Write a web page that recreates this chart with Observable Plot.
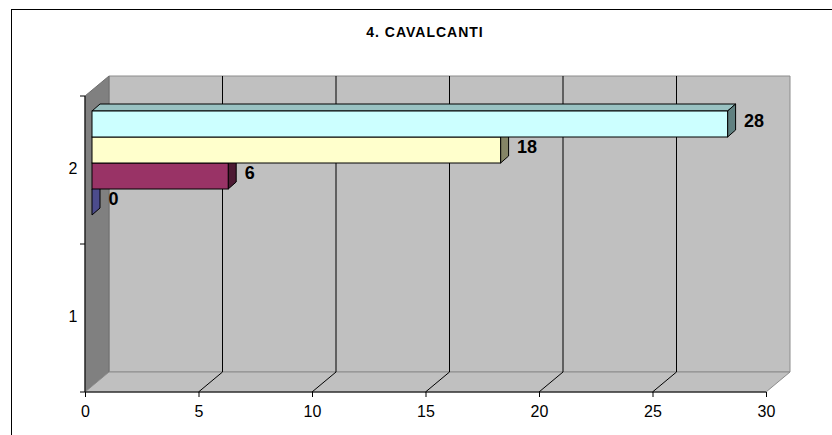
<!DOCTYPE html>
<html><head><meta charset="utf-8">
<script src="https://cdn.jsdelivr.net/npm/d3@7"></script>
<script src="https://cdn.jsdelivr.net/npm/@observablehq/plot@0.6"></script>
<style>
body{margin:0;background:#fff;font-family:"Liberation Sans",Arial,sans-serif;}
#wrap{position:relative;width:832px;height:435px;overflow:hidden;background:#fff;}
#frame{position:absolute;left:11px;top:9px;width:900px;height:500px;border:1px solid #000;box-sizing:border-box;}
#title{position:absolute;left:0;width:850px;top:24px;text-align:center;font:bold 14px "Liberation Sans",Arial,sans-serif;letter-spacing:1px;line-height:16px;}
#chart{position:absolute;left:0;top:0;}
</style></head><body>
<div id="wrap"><div id="frame"></div><div id="title">4. CAVALCANTI</div><div id="chart"></div></div>
<script>
// ---- data ----
const categories = ["2", "1"];               // top to bottom
const series = ["S4", "S3", "S2", "S1"];      // top to bottom within a category
const barSeries = ["S1", "S2", "S3", "S4", "S1", "S2", "S3", "S4"];   // draw order (bottom bar first)
const barCategory = ["2", "2", "2", "2", "1", "1", "1", "1"];
const barValues = [0, 6, 18, 28, null, null, null, null];   // category 1 has no values
const xTicks = [0, 5, 10, 15, 20, 25, 30];

// ---- styles ----
const frontColors = ["#ccffff", "#ffffcc", "#993366", "#9999ff"];
const topColors = {S4: "#99c2c2", S3: "#c2c299", S2: "#73264d", S1: "#7373bf"};
const sideColors = {S4: "#608080", S3: "#858566", S2: "#4d1a33", S1: "#4c4c8c"};

const rows = barSeries.map((s, i) => ({series: s, category: barCategory[i], value: barValues[i]}));

const BAR_DX = 7, BAR_DY = -7;     // bar plane offset
const BD = [8, -7];                 // bar depth
const WD = [24, -20];               // wall depth

const chart = Plot.plot({
  width: 832, height: 435,
  marginLeft: 85, marginRight: 66, marginTop: 95, marginBottom: 43,
  style: {fontFamily: '"Liberation Sans", Arial, sans-serif', fontSize: "16px", background: "transparent", color: "#000", overflow: "visible"},
  x: {domain: [0, 30]},
  y: {domain: series, paddingInner: 0, paddingOuter: 0.75, axis: null},
  fy: {domain: categories, padding: 0},
  color: {domain: series, range: frontColors},
  marks: [
    Plot.axisX(xTicks, {tickSize: 5, tickPadding: 8, fontSize: 16, label: null, stroke: "#000", fill: "#000"}),
    Plot.axisFy({anchor: "left", tickSize: 0, tickPadding: 8, fontSize: 16, label: null, dy: -2, fill: "#000"}),
    Plot.barX(rows, {x1: 0, x2: "value", y: "series", fy: "category", fill: "series", stroke: "#000", strokeWidth: 1, dx: BAR_DX, dy: BAR_DY}),
    Plot.text(rows, {filter: d => d.value != null, x: "value", y: "series", fy: "category", text: d => String(d.value), textAnchor: "start", dx: 23, dy: -10, fontWeight: "bold", fontSize: 18, fill: "#000"})
  ]
});
document.getElementById("chart").append(chart);

// ---- 3D decorations derived from Plot's scales ----
const svgNS = "http://www.w3.org/2000/svg";
function el(name, attrs, parent, before) {
  const e = document.createElementNS(svgNS, name);
  for (const k in attrs) e.setAttribute(k, attrs[k]);
  if (before) parent.insertBefore(e, before); else parent.appendChild(e);
  return e;
}
const pts = a => a.map(p => p.join(",")).join(" ");
const sx = chart.scale("x"), sfy = chart.scale("fy");
const X = v => sx.apply(v);
const x0 = X(0), x1 = X(30);
const yT = sfy.apply(categories[0]);
const yB = sfy.apply(categories[categories.length - 1]) + sfy.bandwidth;

const svg = chart.tagName.toLowerCase() === "svg" ? chart : chart.querySelector("svg");
const deco = el("g", {}, svg, svg.firstChild);
// back wall
el("polygon", {points: pts([[x0 + WD[0], yT + WD[1]], [x1 + WD[0], yT + WD[1]], [x1 + WD[0], yB + WD[1]], [x0 + WD[0], yB + WD[1]]]), fill: "#c0c0c0", stroke: "#8c8c8c"}, deco);
// side wall
el("polygon", {points: pts([[x0, yT], [x0 + WD[0], yT + WD[1]], [x0 + WD[0], yB + WD[1]], [x0, yB]]), fill: "#808080", stroke: "#6e6e6e"}, deco);
// floor
el("polygon", {points: pts([[x0, yB], [x1, yB], [x1 + WD[0], yB + WD[1]], [x0 + WD[0], yB + WD[1]]]), fill: "#c0c0c0", stroke: "#8c8c8c"}, deco);
// gridlines
xTicks.filter(t => t > 0 && t < 30).forEach(t => {
  const x = X(t);
  el("line", {x1: x + WD[0], x2: x + WD[0], y1: yT + WD[1], y2: yB + WD[1], stroke: "#000"}, deco);
  el("line", {x1: x, x2: x + WD[0], y1: yB, y2: yB + WD[1], stroke: "#000"}, deco);
});
// axis lines and y boundary ticks
el("line", {x1: x0, x2: x0, y1: yT, y2: yB, stroke: "#000"}, deco);
el("line", {x1: x0, x2: x1, y1: yB, y2: yB, stroke: "#000"}, deco);
const bounds = categories.map(c => sfy.apply(c)).concat([yB]);
bounds.forEach(y => el("line", {x1: x0 - 5, x2: x0, y1: y, y2: y, stroke: "#000"}, deco));

// bar top and side faces
chart.querySelectorAll('g[aria-label="bar"] rect').forEach(r => {
  const d = rows[r.__data__];
  if (!d || d.value == null) { r.remove(); return; }
  const x = +r.getAttribute("x"), y = +r.getAttribute("y");
  const w = +r.getAttribute("width"), h = +r.getAttribute("height");
  el("polygon", {points: pts([[x, y], [x + w, y], [x + w + BD[0], y + BD[1]], [x + BD[0], y + BD[1]]]), fill: topColors[d.series], stroke: "#000", "stroke-width": 1}, r.parentNode, r);
  el("polygon", {points: pts([[x + w, y], [x + w + BD[0], y + BD[1]], [x + w + BD[0], y + h + BD[1]], [x + w, y + h]]), fill: sideColors[d.series], stroke: "#000", "stroke-width": 1}, r.parentNode, r);
});
</script>
</body></html>
